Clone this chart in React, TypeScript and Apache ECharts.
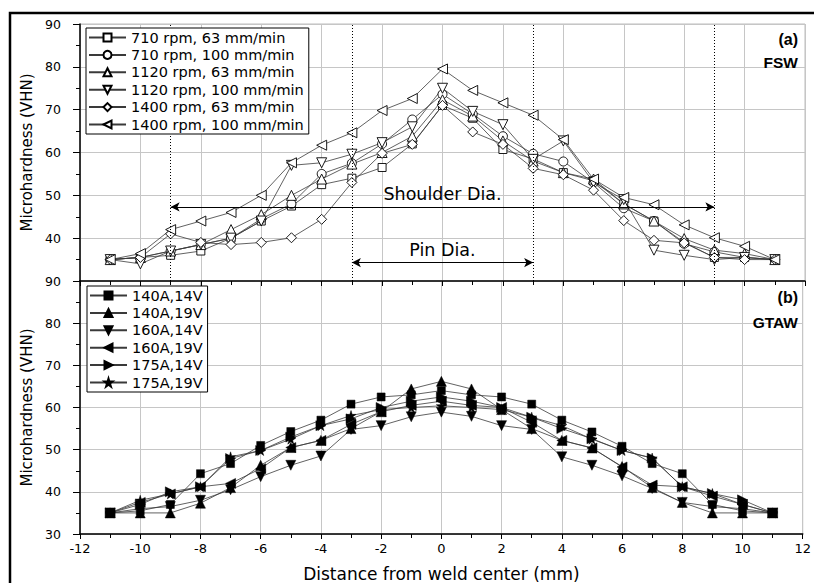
import React, { useEffect, useRef } from "react";
import * as echarts from "echarts";

const distances = [-11, -10, -9, -8, -7, -6, -5, -4, -3, -2, -1, 0, 1, 2, 3, 4, 5, 6, 7, 8, 9, 10, 11];

// (a) FSW
const fswNames = [
  "710 rpm, 63 mm/min",
  "710 rpm, 100 mm/min",
  "1120 rpm, 63 mm/min",
  "1120 rpm, 100 mm/min",
  "1400 rpm, 63 mm/min",
  "1400 rpm, 100 mm/min",
];
const fsw710_63 = [35, 35.5, 36, 37, 40, 44, 47.5, 52.5, 54, 56.5, 62, 71, 68, 60.7, 58.5, 55.3, 53.4, 48, 44, 39, 35.5, 35.5, 35];
const fsw710_100 = [35, 35.5, 37, 38.5, 40, 44.5, 48, 55, 57.5, 62, 67.7, 73.6, 69, 63.8, 59.7, 57.9, 53, 47, 44, 38.7, 36.8, 35.5, 35];
const fsw1120_63 = [35, 35.5, 37, 38.5, 42, 45.5, 50, 53.8, 57.3, 60, 63.8, 72.3, 68.5, 62.7, 58, 55.3, 53.8, 48, 44, 39.9, 37.2, 36.4, 35];
const fsw1120_100 = [35, 34, 37, 38.5, 40, 44, 57, 57.6, 59.6, 62.3, 66, 75, 69.6, 66.5, 58.4, 62.7, 53, 49, 37.2, 36, 35, 35.5, 35];
const fsw1400_63 = [35, 35.5, 41, 39, 38.5, 39, 40.1, 44.4, 53, 59.8, 61.9, 71, 64.8, 61.9, 56.3, 54.8, 51.2, 44.1, 39.5, 38.9, 35.5, 35, 35];
const fsw1400_100 = [35, 36.4, 42, 44, 46, 50, 57.6, 61.7, 64.6, 69.8, 72.6, 79.5, 74.5, 71.6, 68.7, 63, 53.8, 49.5, 47.8, 43.1, 40.1, 38.1, 35];

// (b) GTAW
const gtawNames = ["140A,14V", "140A,19V", "160A,14V", "160A,19V", "175A,14V", "175A,19V"];
const gtaw140_14 = [35, 35.5, 37, 44.3, 46.7, 51, 54.3, 57, 60.8, 62.5, 63, 64, 63, 62.5, 60.8, 57, 54.2, 50.8, 46.7, 44.3, 37, 35.5, 35];
const gtaw140_19 = [35, 35, 35, 37.3, 41, 46.3, 50.5, 52.2, 55, 59, 64.4, 66.2, 64.4, 59.5, 55, 52.2, 50.4, 46, 41, 37.5, 35, 35, 35];
const gtaw160_14 = [35, 36, 36.5, 38, 40.5, 43.6, 46.3, 48.5, 54.8, 55.7, 57.8, 58.9, 57.9, 55.7, 54.8, 48.3, 46.3, 43.8, 40.8, 37.5, 36.5, 36, 35];
const gtaw160_19 = [35, 37.5, 39.5, 41.2, 42, 45.5, 50.5, 52.2, 56, 59, 60.5, 61.5, 60.5, 60, 56.5, 52.2, 50.4, 45.9, 41.6, 41.2, 39, 37, 35];
const gtaw175_14 = [35, 37, 40, 41.2, 47.9, 49.8, 53, 55.7, 57.3, 60, 61.5, 62.5, 61.5, 60, 57.7, 55, 52.6, 49.8, 48, 41.2, 39.6, 38.1, 35];
const gtaw175_19 = [35, 38, 39.5, 41.2, 48.3, 49.8, 52.5, 55.7, 58.1, 59.5, 60, 60.4, 60, 59.5, 57.7, 55.7, 52.5, 49.8, 48, 41.2, 39.6, 37, 35];

// panel labels
const panelLabels = [
  { tag: "(a)", process: "FSW" },
  { tag: "(b)", process: "GTAW" },
];

// annotations (a)
const diaGuides = [-9, -3, 3, 9];
const shoulderDia = { label: "Shoulder Dia.", from: -9, to: 9, level: 47.3 };
const pinDia = { label: "Pin Dia.", from: -3, to: 3, level: 34.3 };

const xTicks = { min: -12, max: 12, interval: 2 };
const yTicks = { min: 30, max: 90, interval: 10 };

const FONT = "DejaVu Sans";
const BOLD = "Liberation Sans";
const STAR = "path://M50,0 L61,35 L98,35 L68,57 L79,91 L50,70 L21,91 L32,57 L2,35 L39,35 Z";

const markerDefs = [
  { symbol: "rect", rotate: 0, size: 8 },
  { symbol: "circle", rotate: 0, size: 9 },
  { symbol: "triangle", rotate: 0, size: 10 },
  { symbol: "triangle", rotate: 180, size: 10 },
  { symbol: "diamond", rotate: 0, size: 10 },
  { symbol: "triangle", rotate: 90, size: 10 },
];
const gtawMarkers = [
  { symbol: "rect", rotate: 0, size: 8 },
  { symbol: "triangle", rotate: 0, size: 10 },
  { symbol: "triangle", rotate: 180, size: 10 },
  { symbol: "triangle", rotate: 90, size: 10 },
  { symbol: "triangle", rotate: -90, size: 10 },
  { symbol: STAR, rotate: 0, size: 10 },
];

export default function App() {
  const ref = useRef<HTMLDivElement>(null);

  useEffect(() => {
    const chart = echarts.init(ref.current!, null, { renderer: "svg" });

    const fswData = [fsw710_63, fsw710_100, fsw1120_63, fsw1120_100, fsw1400_63, fsw1400_100];
    const gtawData = [gtaw140_14, gtaw140_19, gtaw160_14, gtaw160_19, gtaw175_14, gtaw175_19];

    const fswSeries: any[] = fswData.map((vals, i) => ({
      name: fswNames[i],
      type: "line",
      xAxisIndex: 0,
      yAxisIndex: 0,
      data: distances.map((d, j) => [d, vals[j]]),
      symbol: markerDefs[i].symbol,
      symbolSize: markerDefs[i].size,
      symbolRotate: markerDefs[i].rotate,
      showSymbol: true,
      lineStyle: { color: "#3a3a3a", width: 0.8 },
      itemStyle: { color: "#fff", borderColor: "#000", borderWidth: 0.9 },
      emphasis: { disabled: true },
      z: 3,
    }));

    // guide lines and diameter arrows
    fswSeries[0].markLine = {
      silent: true,
      symbol: ["arrow", "arrow"],
      symbolSize: [7, 9],
      lineStyle: { color: "#000", type: "solid", width: 1 },
      label: {
        show: true,
        position: "middle",
        formatter: "{b}",
        fontFamily: FONT,
        fontSize: 17.5,
        color: "#000",
        distance: 4,
      },
      data: [
        [
          { coord: [shoulderDia.from, shoulderDia.level], name: shoulderDia.label },
          { coord: [shoulderDia.to, shoulderDia.level] },
        ],
        [
          { coord: [pinDia.from, pinDia.level], name: pinDia.label },
          { coord: [pinDia.to, pinDia.level] },
        ],
      ],
    };
    fswSeries[1].markLine = {
      silent: true,
      symbol: ["none", "none"],
      lineStyle: { color: "#000", type: [1, 2], width: 1 },
      label: { show: false },
      data: diaGuides.map((x) => ({ xAxis: x })),
    };

    const gtawSeries = gtawData.map((vals, i) => ({
      name: gtawNames[i],
      type: "line",
      xAxisIndex: 1,
      yAxisIndex: 1,
      data: distances.map((d, j) => [d, vals[j]]),
      symbol: gtawMarkers[i].symbol,
      symbolSize: gtawMarkers[i].size,
      symbolRotate: gtawMarkers[i].rotate,
      showSymbol: true,
      lineStyle: { color: "#3a3a3a", width: 0.8 },
      itemStyle: { color: "#000", borderColor: "#000", borderWidth: 0.5 },
      emphasis: { disabled: true },
      z: 3,
    }));

    const baseX = (gridIndex: number, showLabels: boolean) => ({
      type: "value",
      gridIndex,
      min: xTicks.min,
      max: xTicks.max,
      interval: xTicks.interval,
      axisLine: { show: true, onZero: false, lineStyle: { color: "#000", width: 1.5 } },
      axisTick: { show: true, inside: false, length: 5, lineStyle: { color: "#000", width: 1 } },
      minorTick: { show: true, splitNumber: 2, length: 4, lineStyle: { color: "#000", width: 1 } },
      splitLine: { show: true, lineStyle: { color: "#c6c6c6", width: 1 } },
      axisLabel: {
        show: showLabels,
        fontFamily: FONT,
        fontSize: 13,
        color: "#000",
        margin: 8,
      },
      ...(showLabels
        ? {
            name: "Distance from weld center (mm)",
            nameLocation: "middle",
            nameGap: 31,
            nameTextStyle: { fontFamily: FONT, fontSize: 17, color: "#000" },
          }
        : {}),
    });

    const baseY = (gridIndex: number, hideMin: boolean) => ({
      type: "value",
      gridIndex,
      min: yTicks.min,
      max: yTicks.max,
      interval: yTicks.interval,
      axisLine: { show: true, onZero: false, lineStyle: { color: "#000", width: 1.5 } },
      axisTick: { show: true, inside: false, length: 7, lineStyle: { color: "#000", width: 1 } },
      minorTick: { show: true, splitNumber: 2, length: 4, lineStyle: { color: "#000", width: 1 } },
      splitLine: { show: true, lineStyle: { color: "#c6c6c6", width: 1 } },
      axisLabel: {
        fontFamily: FONT,
        fontSize: 12.5,
        color: "#000",
        margin: 19,
        showMinLabel: !hideMin,
      },
      name: "Microhardness (VHN)",
      nameLocation: "middle",
      nameRotate: 90,
      nameGap: 38,
      nameTextStyle: { fontFamily: FONT, fontSize: 15, color: "#000" },
    });

    const legendBase = {
      orient: "vertical",
      itemWidth: 37,
      itemHeight: 10,
      itemGap: 2.4,
      padding: [2, 5, 2, 2],
      borderColor: "#000",
      borderWidth: 1,
      backgroundColor: "#fff",
      selectedMode: false,
      textStyle: { fontFamily: FONT, fontSize: 14.5, color: "#000", lineHeight: 14 },
      z: 10,
    };

    const labelStyle = (size: number) => ({
      textStyle: { fontFamily: BOLD, fontSize: size, fontWeight: "bold", color: "#000" },
    });

    const option: any = {
      animation: false,
      backgroundColor: "#fff",
      title: [
        { text: panelLabels[0].tag, right: 16, top: 31, padding: 0, ...labelStyle(16) },
        { text: panelLabels[0].process, right: 16, top: 54, padding: 0, ...labelStyle(15.5) },
        { text: panelLabels[1].tag, right: 16, top: 289, padding: 0, ...labelStyle(16) },
        { text: panelLabels[1].process, right: 16, top: 314, padding: 0, ...labelStyle(15.5) },
      ],
      grid: [
        { left: 80, top: 24, width: 725, height: 257, show: true, borderColor: "#bdbdbd", borderWidth: 1, backgroundColor: "transparent" },
        { left: 80, top: 281, width: 725, height: 255, show: true, borderColor: "#bdbdbd", borderWidth: 1, backgroundColor: "transparent" },
      ],
      xAxis: [baseX(0, false), baseX(1, true)],
      yAxis: [baseY(0, true), baseY(1, false)],
      legend: [
        { ...legendBase, data: fswNames, left: 86, top: 28 },
        { ...legendBase, data: gtawNames, left: 87, top: 286 },
      ],
      series: [...fswSeries, ...gtawSeries],
      graphic: [
        {
          type: "rect",
          silent: true,
          z: 100,
          shape: { x: 10, y: 13, width: 900, height: 700 },
          style: { fill: "none", stroke: "#000", lineWidth: 2.5 },
        },
      ],
    };

    chart.setOption(option);
    return () => chart.dispose();
  }, []);

  return (
    <div
      ref={ref}
      style={{ position: "fixed", left: 0, top: 0, width: 814, height: 583 }}
    />
  );
}
